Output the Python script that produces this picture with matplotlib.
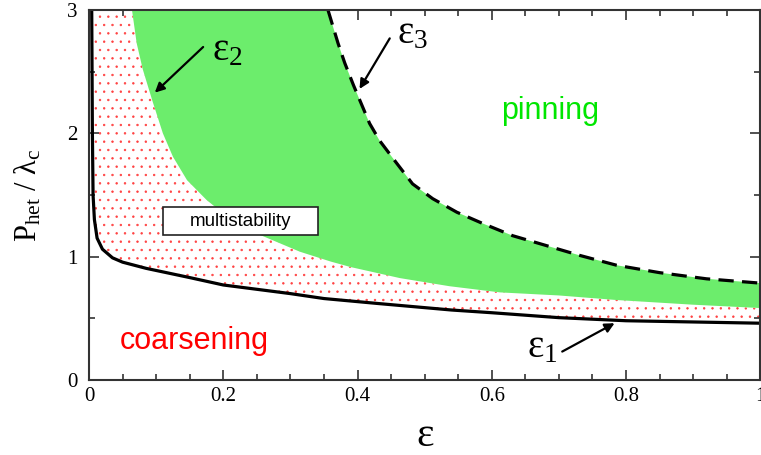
import matplotlib
matplotlib.use("Agg")
import matplotlib.pyplot as plt
from matplotlib.patches import Rectangle

plt.rcParams['font.family'] = ['Liberation Serif', 'DejaVu Serif']
plt.rcParams['mathtext.fontset'] = 'custom'
plt.rcParams['mathtext.rm'] = 'Liberation Serif'
plt.rcParams['mathtext.it'] = 'Liberation Serif:italic'
plt.rcParams['mathtext.bf'] = 'Liberation Serif:bold'
plt.rcParams['hatch.linewidth'] = 0.5
plt.rcParams['lines.scale_dashes'] = False

# ---- data ----
eps1_x = [0.004, 0.005, 0.006, 0.008, 0.012, 0.02, 0.035, 0.05, 0.085, 0.15, 0.2,
          0.3, 0.35, 0.43, 0.54, 0.6, 0.7, 0.8, 0.9, 1.0]
eps1_y = [3.0, 2.0, 1.5, 1.3, 1.15, 1.06, 0.99, 0.955, 0.905, 0.83, 0.77,
          0.70, 0.66, 0.62, 0.567, 0.545, 0.505, 0.48, 0.47, 0.46]

eps2_x = [0.064, 0.071, 0.080, 0.094, 0.110, 0.125, 0.146, 0.175, 0.2, 0.24, 0.314,
          0.36, 0.39, 0.463, 0.537, 0.612, 0.7, 0.786, 0.9, 1.0]
eps2_y = [3.0, 2.73, 2.52, 2.27, 2.0, 1.81, 1.62, 1.46, 1.35, 1.21, 1.04,
          0.96, 0.915, 0.826, 0.76, 0.71, 0.685, 0.648, 0.61, 0.583]

eps3_x = [0.356, 0.371, 0.381, 0.394, 0.418, 0.433, 0.458, 0.482, 0.512, 0.548,
          0.586, 0.631, 0.681, 0.731, 0.786, 0.85, 0.92, 1.0]
eps3_y = [3.0, 2.73, 2.57, 2.39, 2.08, 1.94, 1.76, 1.59, 1.47, 1.36,
          1.27, 1.17, 1.09, 1.01, 0.93, 0.87, 0.82, 0.785]

x_ticks = [0, 0.2, 0.4, 0.6, 0.8, 1.0]
x_ticklabels = ['0', '0.2', '0.4', '0.6', '0.8', '1']
y_ticks = [0, 1, 2, 3]
y_ticklabels = ['0', '1', '2', '3']

fig = plt.figure(figsize=(7.61, 4.55), dpi=100)
ax = fig.add_axes([0.117, 0.165, 0.882, 0.813])
ax.set_xlim(0, 1)
ax.set_ylim(0, 3)

# red dotted region between eps1 and eps2
red_x = eps1_x + eps2_x[::-1]
red_y = eps1_y + eps2_y[::-1]
ax.fill(red_x, red_y, facecolor='none', edgecolor='#ff4040', hatch='..',
        linewidth=0, zorder=1)

# green region between eps2 and eps3 (bounded by top of the axes)
green_x = eps2_x + eps3_x[::-1]
green_y = eps2_y + eps3_y[::-1]
ax.fill(green_x, green_y, facecolor='#6ced6c', edgecolor='none', zorder=2)

ax.plot(eps1_x, eps1_y, color='black', lw=2.3, zorder=4, solid_capstyle='butt',
        solid_joinstyle='round')
ax.plot(eps3_x, eps3_y, color='black', lw=2.3, dashes=(11, 6), zorder=4)

# annotations
arrow = dict(arrowstyle='-|>', color='black', lw=1.6, mutation_scale=14,
             shrinkA=0, shrinkB=0)
ax.annotate('', xy=(0.098, 2.33), xytext=(0.170, 2.70), arrowprops=arrow, zorder=5)
ax.text(0.183, 2.59, r'$\mathrm{ε}_{2}$', fontsize=28, ha='left', va='baseline')
ax.annotate('', xy=(0.403, 2.36), xytext=(0.448, 2.77), arrowprops=arrow, zorder=5)
ax.text(0.459, 2.73, r'$\mathrm{ε}_{3}$', fontsize=28, ha='left', va='baseline')
ax.annotate('', xy=(0.783, 0.46), xytext=(0.705, 0.23), arrowprops=arrow, zorder=5)
ax.text(0.652, 0.18, r'$\mathrm{ε}_{1}$', fontsize=28, ha='left', va='baseline')

ax.text(0.6875, 2.12, 'pinning', color='#00e600', fontsize=22,
        family='Liberation Sans', ha='center', va='baseline', zorder=6)
ax.text(0.157, 0.25, 'coarsening', color='#ff0000', fontsize=22,
        family='Liberation Sans', ha='center', va='baseline', zorder=6)

ax.add_patch(Rectangle((0.110, 1.174), 0.231, 0.226, facecolor='white',
                       edgecolor='#222222', lw=1.2, zorder=6))
ax.text(0.2255, 1.287, 'multistability', fontsize=13.5, family='Liberation Sans',
        ha='center', va='center', zorder=7)

# axes styling
ax.set_xticks(x_ticks)
ax.set_xticklabels(x_ticklabels)
ax.set_yticks(y_ticks)
ax.set_yticklabels(y_ticklabels)
ax.set_xticks([i * 0.05 for i in range(21)], minor=True)
ax.set_yticks([i * 0.5 for i in range(7)], minor=True)
ax.tick_params(which='both', direction='in', top=True, right=True,
               color='#333333', width=1.2, labelsize=15)
ax.tick_params(which='major', length=7)
ax.tick_params(which='minor', length=4)
ax.tick_params(axis='x', pad=5)
ax.tick_params(axis='y', pad=8)
for s in ax.spines.values():
    s.set_linewidth(1.5)
    s.set_color('#333333')
    s.set_zorder(8)

ax.set_xlabel('ε', fontsize=30, labelpad=8)
ax.set_ylabel(r'$\mathrm{P_{het}\ /\ λ_c}$', fontsize=22, labelpad=17)

fig.savefig('out.png', dpi=100)
